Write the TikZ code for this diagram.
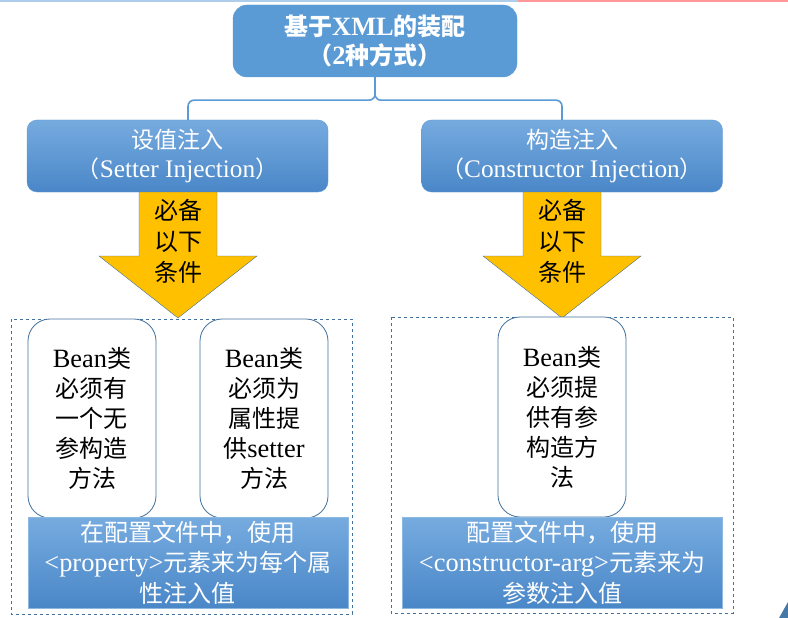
\documentclass[tikz,border=0pt]{standalone}
\usepackage{fontspec}
\setmainfont{Liberation Serif}[Scale=1.1]
\newfontfamily\zhfont{Noto Sans CJK SC}
\newcommand{\zh}[1]{{\zhfont #1}}
\definecolor{officeblue}{HTML}{5B9BD5}
\definecolor{boxtop}{HTML}{76ABDF}
\definecolor{boxbottom}{HTML}{4A87C8}
\definecolor{edgeblue}{HTML}{41719C}
\definecolor{gold}{HTML}{FFC000}

\begin{document}
\begin{tikzpicture}[x=1pt,y=-1pt,
    mainbox/.style={draw=officeblue,fill=officeblue,rounded corners=14pt,text=white,align=center,
      minimum width=284pt,minimum height=72pt,font=\fontsize{24}{29}\selectfont\bfseries},
    waybox/.style={draw=officeblue,top color=boxtop,bottom color=boxbottom,rounded corners=10pt,
      text=white,align=center,minimum width=301pt,minimum height=72pt,font=\fontsize{23}{29}\selectfont},
    rulebox/.style={draw=edgeblue,fill=white,thick,rounded corners=22pt,align=center,
      minimum width=128pt,minimum height=199pt,font=\fontsize{24}{30}\selectfont},
    cfgbox/.style={draw=officeblue!70,top color=boxtop,bottom color=boxbottom,text=white,align=center,
      minimum width=320pt,minimum height=87pt,font=\fontsize{24}{30.5}\selectfont},
    condarrow/.style={draw=edgeblue,fill=gold},
    condtext/.style={align=center,font=\fontsize{24}{31}\selectfont},
    bracket/.style={officeblue,line width=1.6pt,rounded corners=6pt},
    frame/.style={edgeblue,dashed}]
  \useasboundingbox (0,0) rectangle (788,618);
  % slide decoration
  \draw[officeblue!50,line width=1.5pt] (0,1) -- (518,1);
  \draw[red!40,line width=1.5pt] (518,1) -- (788,1);
  \fill[edgeblue!80!officeblue] (779,618) -- (788,602) -- (788,618) -- cycle;

  \node[mainbox] (top) at (375,41) {\zh{基于}XML\zh{的装配}\\\zh{（}2\zh{种方式）}};
  \node[waybox] (setter) at (177.5,156) {\zh{设值注入}\\\zh{（}Setter Injection\zh{）}};
  \node[waybox] (ctor) at (572,156) {\zh{构造注入}\\\zh{（}Constructor Injection\zh{）}};

  \draw[bracket] (top.south) -- ++(0,23) -| ([xshift=10.5pt]setter.north);
  \draw[bracket] (top.south) -- ++(0,23) -| ([xshift=-10pt]ctor.north);

  % arrows: 必备以下条件
  \foreach \ax in {178,562}
    \draw[condarrow] (\ax-39,192) -- (\ax-39,256) -- (\ax-79,256) -- (\ax,318)
      -- (\ax+79,256) -- (\ax+39,256) -- (\ax+39,192) -- cycle;
  \node[condtext] (needL) at (178,241) {\zh{必备}\\\zh{以下}\\\zh{条件}};
  \node[condtext] (needR) at (562,241) {\zh{必备}\\\zh{以下}\\\zh{条件}};

  \draw[frame] (11,319) rectangle (352,614);
  \draw[frame] (391,317) rectangle (733,613);

  \node[rulebox] (noarg) at (92,418.5) {Bean\zh{类}\\\zh{必须有}\\\zh{一个无}\\\zh{参构造}\\\zh{方法}};
  \node[rulebox] (setfn) at (264,418.5) {Bean\zh{类}\\\zh{必须为}\\\zh{属性提}\\\zh{供}setter\\\zh{方法}};
  \node[rulebox,minimum height=200pt] (argctor) at (562,417) {Bean\zh{类}\\\zh{必须提}\\\zh{供有参}\\\zh{构造方}\\\zh{法}};

  \node[cfgbox] (propcfg) at (188,562.5) {\zh{在配置文件中，使用}\\<property>\zh{元素来为每个属}\\\zh{性注入值}};
  \node[cfgbox] (argcfg) at (562,562.5) {\zh{配置文件中，使用}\\<constructor-arg>\zh{元素来为}\\\zh{参数注入值}};
\end{tikzpicture}
\end{document}
